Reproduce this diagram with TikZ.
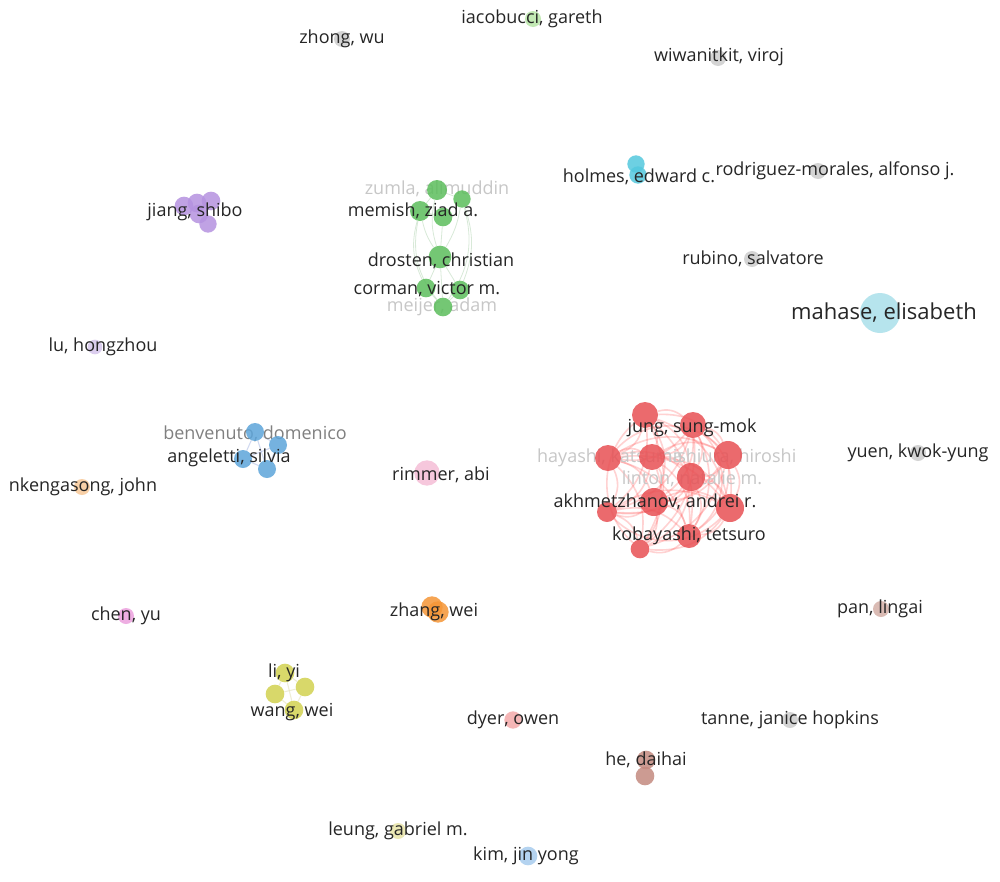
\documentclass[tikz,border=0pt]{standalone}
\usepackage{fontspec}
\setmainfont{Open Sans}
\pgfdeclarelayer{edges}
\pgfdeclarelayer{faded}
\pgfdeclarelayer{labels}
\pgfsetlayers{edges,faded,main,labels}
\begin{document}
\begin{tikzpicture}[x=0.75pt,y=-0.75pt,
  nd/.style={circle,inner sep=0pt,draw=none,fill opacity=0.85},
  lab/.style={text=black!85,font=\fontsize{13.5pt}{16pt}\selectfont,inner sep=0pt},
  flab/.style={text=black!22,font=\fontsize{13.5pt}{16pt}\selectfont,inner sep=0pt},
  biglab/.style={text=black!85,font=\fontsize{16.5pt}{19pt}\selectfont,inner sep=0pt},
  redge/.style={draw=red!70!white,opacity=0.25,line width=1.2pt},
  gedge/.style={draw=green!45!black!30!white,opacity=0.5,line width=0.6pt},
  bedge/.style={draw=cyan!40!blue!30!white,opacity=0.6,line width=0.8pt},
  yedge/.style={draw=yellow!60!black!30!white,opacity=0.6,line width=0.8pt}]
\definecolor{cred}{RGB}{232,80,84}
\definecolor{cgreen}{RGB}{92,190,92}
\definecolor{cblue}{RGB}{93,165,218}
\definecolor{cyel}{RGB}{210,210,80}
\definecolor{cpur}{RGB}{181,146,224}
\definecolor{ccyan}{RGB}{84,200,222}
\definecolor{corg}{RGB}{245,150,55}
\definecolor{cpink}{RGB}{245,190,215}
\definecolor{cbrown}{RGB}{196,138,128}
\definecolor{cltcyan}{RGB}{170,224,234}
\definecolor{cgrey}{RGB}{205,205,205}
\definecolor{cltgreen}{RGB}{184,230,168}
\definecolor{clav}{RGB}{213,197,236}
\definecolor{cltorg}{RGB}{247,200,152}
\definecolor{cmag}{RGB}{236,160,222}
\definecolor{cltbrown}{RGB}{212,176,168}
\definecolor{csalmon}{RGB}{244,170,170}
\definecolor{cltyel}{RGB}{232,228,168}
\definecolor{cltblue}{RGB}{168,204,238}
\begin{pgfonlayer}{edges}
\fill[white] (0,0) rectangle (1000,882);
\end{pgfonlayer}
\useasboundingbox (0,0) rectangle (1000,882);

% ---------- red cluster ----------
\node[nd,fill=cred,minimum size=19.5pt] (r1) at (645,415) {};
\node[nd,fill=cred,minimum size=19.5pt] (r2) at (693,425) {};
\node[nd,fill=cred,minimum size=19.5pt] (r3) at (608,458) {};
\node[nd,fill=cred,minimum size=19.5pt] (r4) at (652,457) {};
\node[nd,fill=cred,minimum size=21pt] (r5) at (728,455) {};
\node[nd,fill=cred,minimum size=21pt] (r6) at (691,477) {};
\node[nd,fill=cred,minimum size=21pt] (r7) at (654,502) {};
\node[nd,fill=cred,minimum size=15pt] (r8) at (607,512) {};
\node[nd,fill=cred,minimum size=21pt] (r9) at (730,508) {};
\node[nd,fill=cred,minimum size=18pt] (r10) at (689,536) {};
\node[nd,fill=cred,minimum size=14pt] (r11) at (640,549) {};
\begin{pgfonlayer}{edges}
\foreach \a/\b in {r1/r2,r1/r3,r1/r4,r1/r5,r1/r6,r1/r7,r1/r8,r1/r9,r1/r10,r1/r11,
  r2/r3,r2/r4,r2/r5,r2/r6,r2/r7,r2/r8,r2/r9,r2/r10,r2/r11,
  r3/r4,r3/r5,r3/r6,r3/r7,r3/r8,r3/r9,r3/r10,r3/r11,
  r4/r5,r4/r6,r4/r7,r4/r8,r4/r9,r4/r10,r4/r11,
  r5/r6,r5/r7,r5/r8,r5/r9,r5/r10,r5/r11,
  r6/r7,r6/r8,r6/r9,r6/r10,r6/r11,
  r7/r8,r7/r9,r7/r10,r7/r11,
  r8/r9,r8/r10,r8/r11,r9/r10,r9/r11,r10/r11}
  \draw[redge] (\a) to[bend left=28] (\b);
\draw[redge] (r3) to[bend left=45] (r5);
\draw[redge] (r8) to[bend right=45] (r9);
\draw[redge] (r1) to[bend right=50] (r11);
\draw[redge] (r2) to[bend left=50] (r10);
\end{pgfonlayer}
\begin{pgfonlayer}{faded}
\node[flab,anchor=east] (lhay) at (683,458) {hayashi, katsuma};
\node[flab] (lnis) at (729,457) {nishiura, hiroshi};
\node[flab] (llin) at (692,479) {linton, natalie m.};
\end{pgfonlayer}
\begin{pgfonlayer}{labels}
\node[lab] (ljung) at (692,428) {jung, sung-mok};
\node[lab] (lakh) at (655,502) {akhmetzhanov, andrei r.};
\node[lab] (lkob) at (689,536) {kobayashi, tetsuro};
\end{pgfonlayer}

% ---------- green cluster ----------
\node[nd,fill=cgreen,minimum size=15pt] (g1) at (437,190) {};
\node[nd,fill=cgreen,minimum size=13pt] (g2) at (462,199) {};
\node[nd,fill=cgreen,minimum size=15pt] (g3) at (420,211) {};
\node[nd,fill=cgreen,minimum size=14pt] (g4) at (443,217) {};
\node[nd,fill=cgreen,minimum size=17pt] (g5) at (440,257) {};
\node[nd,fill=cgreen,minimum size=14pt] (g6) at (426,288) {};
\node[nd,fill=cgreen,minimum size=14pt] (g7) at (460,290) {};
\node[nd,fill=cgreen,minimum size=14pt] (g8) at (443,307) {};
\begin{pgfonlayer}{edges}
\draw[gedge] (g1) to[bend right=15] (g5);
\draw[gedge] (g3) to[bend right=10] (g5);
\draw[gedge] (g3) to[bend right=20] (g6);
\draw[gedge] (g2) to[bend left=20] (g7);
\draw[gedge] (g2) to[bend left=10] (g5);
\draw[gedge] (g4) to (g5);
\draw[gedge] (g1) to (g3);
\draw[gedge] (g1) to (g2);
\draw[gedge] (g3) to (g4);
\draw[gedge] (g5) to (g6);
\draw[gedge] (g5) to (g7);
\draw[gedge] (g6) to (g8);
\draw[gedge] (g7) to (g8);
\draw[gedge] (g5) to (g8);
\draw[gedge] (g3) to[bend right=25] (g8);
\draw[gedge] (g2) to[bend left=25] (g8);
\end{pgfonlayer}
\begin{pgfonlayer}{faded}
\node[flab] (lzum) at (437,189) {zumla, alimuddin};
\node[flab] (lmei) at (442,307) {meijer, adam};
\end{pgfonlayer}
\begin{pgfonlayer}{labels}
\node[lab] (lmem) at (413,211) {memish, ziad a.};
\node[lab] (ldro) at (441,261) {drosten, christian};
\node[lab] (lcor) at (427,289) {corman, victor m.};
\end{pgfonlayer}

% ---------- blue cluster ----------
\node[nd,fill=cblue,minimum size=13.5pt] (b1) at (255,432) {};
\node[nd,fill=cblue,minimum size=13.5pt] (b2) at (278,445) {};
\node[nd,fill=cblue,minimum size=13.5pt] (b3) at (243,459) {};
\node[nd,fill=cblue,minimum size=13.5pt] (b4) at (267,469) {};
\begin{pgfonlayer}{edges}
\draw[bedge] (b1) -- (b2); \draw[bedge] (b1) -- (b3); \draw[bedge] (b1) -- (b4);
\draw[bedge] (b2) -- (b3); \draw[bedge] (b2) -- (b4); \draw[bedge] (b3) -- (b4);
\end{pgfonlayer}
\begin{pgfonlayer}{faded}
\node[flab,text=black!50] (lben) at (255,434) {benvenuto, domenico};
\end{pgfonlayer}
\begin{pgfonlayer}{labels}
\node[lab] (lang) at (229,458) {angeletti, silvia};
\end{pgfonlayer}

% ---------- yellow cluster ----------
\node[nd,fill=cyel,minimum size=14pt] (y1) at (285,673) {};
\node[nd,fill=cyel,minimum size=14pt] (y2) at (305,687) {};
\node[nd,fill=cyel,minimum size=14pt] (y3) at (275,694) {};
\node[nd,fill=cyel,minimum size=14pt] (y4) at (294,710) {};
\begin{pgfonlayer}{edges}
\draw[yedge] (y1) -- (y2); \draw[yedge] (y1) -- (y3); \draw[yedge] (y2) -- (y3);
\draw[yedge] (y2) -- (y4); \draw[yedge] (y3) -- (y4); \draw[yedge] (y1) -- (y4);
\end{pgfonlayer}
\begin{pgfonlayer}{labels}
\node[lab] (lli) at (284,673) {li, yi};
\node[lab] (lwang) at (292,712) {wang, wei};
\end{pgfonlayer}

% ---------- purple jiang ----------
\node[nd,fill=cpur,minimum size=14pt] (p1) at (184,206) {};
\node[nd,fill=cpur,minimum size=14pt] (p2) at (197,203) {};
\node[nd,fill=cpur,minimum size=14pt] (p3) at (211,201) {};
\node[nd,fill=cpur,minimum size=14pt] (p4) at (199,214) {};
\node[nd,fill=cpur,minimum size=13pt] (p5) at (208,224) {};

% ---------- small clusters ----------
\node[nd,fill=ccyan,minimum size=13pt] (c1) at (636,164) {};
\node[nd,fill=ccyan,minimum size=13pt] (c2) at (638,175) {};
\node[nd,fill=corg,minimum size=16pt] (o1) at (432,607) {};
\node[nd,fill=corg,minimum size=16pt] (o2) at (438,612) {};
\node[nd,fill=cbrown,minimum size=14pt] (h1) at (646,760) {};
\node[nd,fill=cbrown,minimum size=14pt] (h2) at (645,776) {};

% ---------- singletons ----------
\node[nd,fill=cltgreen,minimum size=12pt] (n1) at (533,19) {};
\node[nd,fill=cgrey,minimum size=12pt] (n2) at (342,39) {};
\node[nd,fill=cgrey,minimum size=12pt] (n3) at (718,58) {};
\node[nd,fill=cgrey,minimum size=12pt] (n4) at (818,171) {};
\node[nd,fill=cgrey,minimum size=12pt] (n5) at (752,259) {};
\node[nd,fill=cltcyan,minimum size=30pt] (n6) at (880,313) {};
\node[nd,fill=clav,minimum size=11pt] (n7) at (95,347) {};
\node[nd,fill=cltorg,minimum size=12pt] (n8) at (82,487) {};
\node[nd,fill=cpink,minimum size=19pt] (n9) at (427,473) {};
\node[nd,fill=cgrey,minimum size=12pt] (n10) at (918,453) {};
\node[nd,fill=cmag,minimum size=12pt] (n11) at (126,616) {};
\node[nd,fill=cltbrown,minimum size=12pt] (n12) at (881,609) {};
\node[nd,fill=csalmon,minimum size=13pt] (n13) at (513,720) {};
\node[nd,fill=cgrey,minimum size=12pt] (n14) at (790,720) {};
\node[nd,fill=cltyel,minimum size=12pt] (n15) at (398,831) {};
\node[nd,fill=cltblue,minimum size=14pt] (n16) at (528,856) {};

\begin{pgfonlayer}{labels}
\node[lab] (ljia) at (195,212) {jiang, shibo};
\node[lab] (lhol) at (639,177) {holmes, edward c.};
\node[lab] (lzha) at (434,612) {zhang, wei};
\node[lab] (lhe) at (646,760) {he, daihai};
\node[lab] (l1) at (532,19) {iacobucci, gareth};
\node[lab] (l2) at (342,39) {zhong, wu};
\node[lab] (l3) at (719,57) {wiwanitkit, viroj};
\node[lab] (l4) at (835,171) {rodriguez-morales, alfonso j.};
\node[lab] (l5) at (753,259) {rubino, salvatore};
\node[biglab] (l6) at (884,313) {mahase, elisabeth};
\node[lab] (l7) at (103,347) {lu, hongzhou};
\node[lab] (l8) at (83,487) {nkengasong, john};
\node[lab] (l9) at (441,475) {rimmer, abi};
\node[lab] (l10) at (918,453) {yuen, kwok-yung};
\node[lab] (l11) at (126,616) {chen, yu};
\node[lab] (l12) at (880,609) {pan, lingai};
\node[lab] (l13) at (513,720) {dyer, owen};
\node[lab] (l14) at (790,720) {tanne, janice hopkins};
\node[lab] (l15) at (398,831) {leung, gabriel m.};
\node[lab] (l16) at (526,856) {kim, jin yong};
\end{pgfonlayer}
\end{tikzpicture}
\end{document}
